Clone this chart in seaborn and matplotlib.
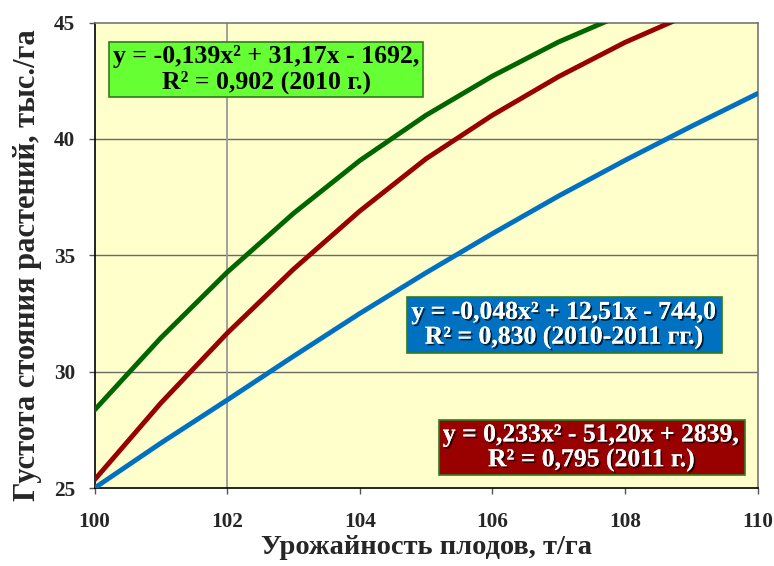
import matplotlib
matplotlib.use("Agg")
import matplotlib.pyplot as plt
import matplotlib.patheffects as pe
import seaborn as sns
import pandas as pd

# Урожайность плодов (т/га) and fitted density curves (тыс./га)
yield_t = [100, 101, 102, 103, 104, 105, 106, 107, 108, 109, 110]
dens_2010 = [28.35, 31.45, 34.27, 36.8, 39.07, 41.02, 42.7, 44.17, 45.4, 46.5, 47.4]
dens_2011 = [25.35, 28.65, 31.65, 34.4, 36.9, 39.15, 41.02, 42.68, 44.15, 45.4, 46.5]
dens_all = [25.0, 26.93, 28.78, 30.66, 32.5, 34.25, 35.93, 37.55, 39.08, 40.54, 41.95]

series_names = ["2010", "2011", "2010-2011"]
series_colors = {"2010": "#006600", "2011": "#990000", "2010-2011": "#0070C0"}

eq_2010 = "y = -0,139x² + 31,17x - 1692,\nR² = 0,902 (2010 г.)"
eq_all = "y = -0,048x² + 12,51x - 744,0\nR² = 0,830 (2010-2011 гг.)"
eq_2011 = "y = 0,233x² - 51,20x + 2839,\nR² = 0,795 (2011 г.)"

x_ticks = [100, 102, 104, 106, 108, 110]
y_ticks = [25, 30, 35, 40, 45]
x_grid = [102]

df = pd.concat([
    pd.DataFrame({"x": yield_t, "y": vals, "series": name})
    for name, vals in zip(series_names, [dens_2010, dens_2011, dens_all])
])

sns.set_style("ticks")
plt.rcParams["font.family"] = ["Liberation Serif", "DejaVu Serif"]
plt.rcParams["font.weight"] = "bold"

fig = plt.figure(figsize=(7.74, 5.66), dpi=100)
ax = fig.add_axes([0.1221, 0.1378, 0.8566, 0.8222])
ax.set_facecolor("#FFFFCC")

ax.set_xlim(100, 110)
ax.set_ylim(25, 45)
for yv in y_ticks[1:-1]:
    ax.axhline(yv, color="#6a6a6a", lw=1.0, zorder=1)
for xv in x_grid:
    ax.axvline(xv, color="#9a9a9a", lw=1.3, zorder=1)

sns.lineplot(data=df, x="x", y="y", hue="series", palette=series_colors,
             hue_order=series_names, linewidth=3.5, legend=False, ax=ax,
             zorder=3)

ax.set_xticks(x_ticks)
ax.set_yticks(y_ticks)
ax.tick_params(axis="both", labelsize=15.3, length=4.5, width=1, color="#555555")
ax.tick_params(axis="x", pad=13)
ax.tick_params(axis="y", pad=9.5)
for lab in ax.get_xticklabels() + ax.get_yticklabels():
    lab.set_fontweight("bold")

ax.set_xlabel("Урожайность плодов, т/га", fontsize=20.5, fontweight="bold", labelpad=2)
ax.set_ylabel("Густота стояния растений, тыс./га", fontsize=22, fontweight="bold")
ax.yaxis.set_label_coords(-0.079, 0.48)

for side in ["left", "bottom"]:
    ax.spines[side].set_color("black")
    ax.spines[side].set_linewidth(1.2)
for side in ["top", "right"]:
    ax.spines[side].set_visible(True)
    ax.spines[side].set_color("#777777")
    ax.spines[side].set_linewidth(1.2)

shadow = [pe.withSimplePatchShadow(offset=(1.3, -1.3), shadow_rgbFace="black", alpha=0.7),
          pe.Normal()]

ax.text(102.59, 42.99, eq_2010, fontsize=18.5, fontweight="bold", color="black",
        ha="center", va="center", ma="center", linespacing=1.1, zorder=5,
        bbox=dict(boxstyle="square,pad=0.15", fc="#66FF33", ec="#2E7D1E", lw=1.2))

ax.text(107.09, 32.01, eq_all, fontsize=18.5, fontweight="bold", color="white",
        ha="center", va="center", ma="center", linespacing=1.1, zorder=5,
        path_effects=shadow,
        bbox=dict(boxstyle="square,pad=0.15", fc="#0070C0", ec="#2E7D1E", lw=1.2))

ax.text(107.5, 26.74, eq_2011, fontsize=18.5, fontweight="bold", color="white",
        ha="center", va="center", ma="center", linespacing=1.1, zorder=5,
        path_effects=shadow,
        bbox=dict(boxstyle="square,pad=0.15", fc="#990000", ec="#2E7D1E", lw=1.2))

fig.savefig("out.png", dpi=100, facecolor="white")
